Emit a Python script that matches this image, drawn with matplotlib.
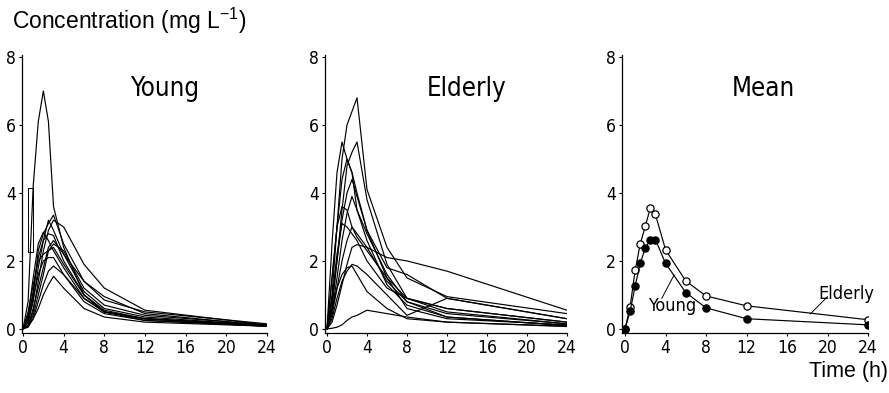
import matplotlib
matplotlib.use("Agg")
import matplotlib.pyplot as plt
from matplotlib import font_manager as fm

# ---------------- data ----------------
times = [0, 0.5, 1, 1.5, 2, 2.5, 3, 4, 6, 8, 12, 24]

young_subjects = [
    [0, 0.8, 4.2, 6.1, 7.0, 6.1, 3.6, 2.4, 1.0, 0.5, 0.25, 0.08],
    [0, 0.1, 0.5, 1.4, 2.3, 2.9, 3.2, 3.0, 1.9, 1.2, 0.55, 0.12],
    [0, 0.3, 1.0, 2.3, 2.8, 3.1, 3.35, 2.5, 1.4, 0.95, 0.45, 0.10],
    [0, 0.4, 1.5, 2.5, 2.85, 2.6, 2.3, 1.8, 0.9, 0.5, 0.30, 0.08],
    [0, 0.2, 0.8, 1.8, 2.6, 3.2, 2.9, 2.2, 1.1, 0.6, 0.35, 0.10],
    [0, 0.1, 0.4, 1.0, 1.6, 2.3, 2.5, 2.3, 1.2, 0.7, 0.40, 0.12],
    [0, 0.2, 0.9, 1.6, 2.0, 2.1, 2.1, 1.6, 0.8, 0.45, 0.25, 0.08],
    [0, 0.05, 0.3, 0.8, 1.3, 1.7, 1.85, 1.6, 0.9, 0.5, 0.30, 0.10],
    [0, 0.1, 0.3, 0.6, 1.0, 1.3, 1.55, 1.2, 0.6, 0.35, 0.20, 0.08],
    [0, 0.5, 1.3, 2.0, 2.2, 2.3, 2.4, 1.9, 1.0, 0.55, 0.30, 0.10],
    [0, 0.3, 1.1, 2.1, 2.6, 2.8, 2.75, 2.0, 1.0, 0.5, 0.30, 0.09],
    [0, 0.1, 0.6, 1.2, 1.8, 2.4, 2.6, 2.2, 1.4, 0.85, 0.50, 0.15],
]
# odd rectangular trace near t = 0.5-1 h in the Young panel
young_step_t = [0.5, 0.5, 1.0, 1.0, 0.5]
young_step_c = [2.26, 4.15, 4.15, 2.26, 2.26]

elderly_subjects = [
    [0, 1.0, 3.0, 5.0, 6.0, 6.4, 6.8, 4.1, 2.4, 1.5, 0.95, 0.45],
    [0, 2.5, 4.6, 5.5, 5.0, 4.6, 4.0, 2.9, 1.8, 1.6, 0.90, 0.30],
    [0, 0.6, 2.0, 3.5, 4.8, 5.2, 5.5, 3.8, 1.9, 0.9, 0.60, 0.20],
    [0, 1.5, 3.0, 4.4, 5.0, 4.6, 3.5, 2.8, 1.6, 0.8, 0.45, 0.15],
    [0, 0.8, 2.0, 3.2, 4.0, 4.4, 3.9, 2.9, 1.5, 0.6, 0.30, 0.12],
    [0, 0.5, 1.5, 2.6, 3.4, 3.9, 3.5, 2.6, 1.3, 0.7, 0.35, 0.10],
    [0, 1.5, 3.0, 3.6, 3.5, 3.0, 2.7, 2.3, 1.5, 0.9, 0.50, 0.15],
    [0, 0.4, 1.2, 2.0, 2.6, 3.0, 2.8, 2.4, 1.4, 0.8, 0.35, 0.10],
    [0, 0.2, 0.7, 1.3, 1.9, 2.4, 2.48, 2.4, 2.1, 2.0, 1.70, 0.55],
    [0, 0.3, 0.9, 1.4, 1.7, 1.9, 1.85, 1.6, 1.0, 0.4, 0.90, 0.30],
    [0, 0.02, 0.05, 0.12, 0.25, 0.35, 0.4, 0.55, 0.45, 0.35, 0.20, 0.08],
    [0, 0.6, 1.2, 1.6, 1.8, 1.85, 1.6, 1.1, 0.6, 0.3, 0.20, 0.07],
    [0, 0.9, 2.2, 3.1, 3.0, 2.8, 2.6, 2.0, 1.2, 0.9, 0.60, 0.20],
]

young_mean = [0, 0.52, 1.26, 1.93, 2.38, 2.63, 2.63, 1.93, 1.07, 0.62, 0.30, 0.12]
elderly_mean = [0, 0.65, 1.72, 2.50, 3.02, 3.56, 3.37, 2.33, 1.41, 0.97, 0.68, 0.27]

panel_titles = ["Young", "Elderly", "Mean"]
xticks = [0, 4, 8, 12, 16, 20, 24]
yticks = [0, 2, 4, 6, 8]
ylabel_text = r"Concentration (mg L$^{-1}$)"
xlabel_text = "Time (h)"

# ---------------- fonts ----------------
def find_condensed():
    cands = []
    for f in fm.fontManager.ttflist:
        nm = f.name.lower()
        st = str(f.stretch).lower()
        narrowish = ("narrow" in nm or "condensed" in nm or
                     st in ("condensed", "semi-condensed", "extra-condensed",
                            "ultra-condensed"))
        if not narrowish or "mono" in nm or "serif" in nm and "sans" not in nm:
            continue
        if str(f.style) != "normal":
            continue
        score = 0
        if "liberation" in nm or "arial" in nm:
            score -= 10
        if f.weight in (400, "normal", "regular"):
            score -= 2
        cands.append((score, f.fname))
    cands.sort()
    return cands[0][1] if cands else None

cond_file = find_condensed()
if cond_file:
    cond = lambda size: fm.FontProperties(fname=cond_file, size=size)
else:
    cond = lambda size: fm.FontProperties(family="DejaVu Sans",
                                          stretch="condensed", size=size)

plt.rcParams["font.family"] = ["Liberation Sans", "DejaVu Sans"]
plt.rcParams["mathtext.fontset"] = "custom"
plt.rcParams["mathtext.rm"] = "Liberation Sans"
plt.rcParams["mathtext.it"] = "Liberation Sans"

W, H = 889, 393
fig = plt.figure(figsize=(W / 100, H / 100), dpi=100)

rects = [(22, 267, 55, 333), (325, 567, 55, 333), (622, 868, 55, 333)]
xlims = [(-0.1, 24.0), (-0.2, 24.0), (-0.3, 24.0)]
axes = []
for (l, r, t, b), xl in zip(rects, xlims):
    ax = fig.add_axes([l / W, 1 - b / H, (r - l) / W, (b - t) / H])
    ax.set_xlim(*xl)
    ax.set_ylim(-0.12, 8.06)
    for s in ("top", "right"):
        ax.spines[s].set_visible(False)
    for s in ("left", "bottom"):
        ax.spines[s].set_linewidth(0.9)
    ax.set_xticks(xticks)
    ax.set_yticks(yticks)
    ax.tick_params(axis="both", direction="out", length=2.5, width=0.8, pad=2)
    for lab in ax.get_xticklabels() + ax.get_yticklabels():
        lab.set_fontproperties(cond(12.5))
    ax.patch.set_alpha(0)
    axes.append(ax)

lw = 0.85
for subj in young_subjects:
    axes[0].plot(times, subj, color="black", lw=lw)
axes[0].plot(young_step_t, young_step_c, color="black", lw=0.7)

for subj in elderly_subjects:
    axes[1].plot(times, subj, color="black", lw=lw)

axes[2].plot(times, elderly_mean, color="black", lw=lw, marker="o", ms=5.2,
             mfc="white", mec="black", mew=0.9)
axes[2].plot(times, young_mean, color="black", lw=lw, marker="o", ms=5.2,
             mfc="black", mec="black", mew=0.9)

title_pos = [(14.0, 7.05), (14.0, 7.05), (13.7, 7.05)]
for ax, ttl, (tx, ty) in zip(axes, panel_titles, title_pos):
    ax.text(tx, ty, ttl, ha="center", va="center", fontproperties=cond(18.5))

axes[2].text(4.7, 0.67, "Young", ha="center", va="center",
             fontproperties=cond(13))
axes[2].plot([3.63, 4.85], [0.90, 1.59], color="black", lw=0.7)
axes[2].text(21.9, 1.02, "Elderly", ha="center", va="center",
             fontproperties=cond(13))
axes[2].plot([20.0, 18.3], [0.95, 0.44], color="black", lw=0.7)

fig.text(12 / W, 1 - 29 / H, ylabel_text, fontsize=16.5, ha="left",
         va="baseline")
fig.text(888 / W, 1 - 377 / H, xlabel_text, fontsize=15.5, ha="right",
         va="baseline")

fig.savefig("out.png", dpi=100)
